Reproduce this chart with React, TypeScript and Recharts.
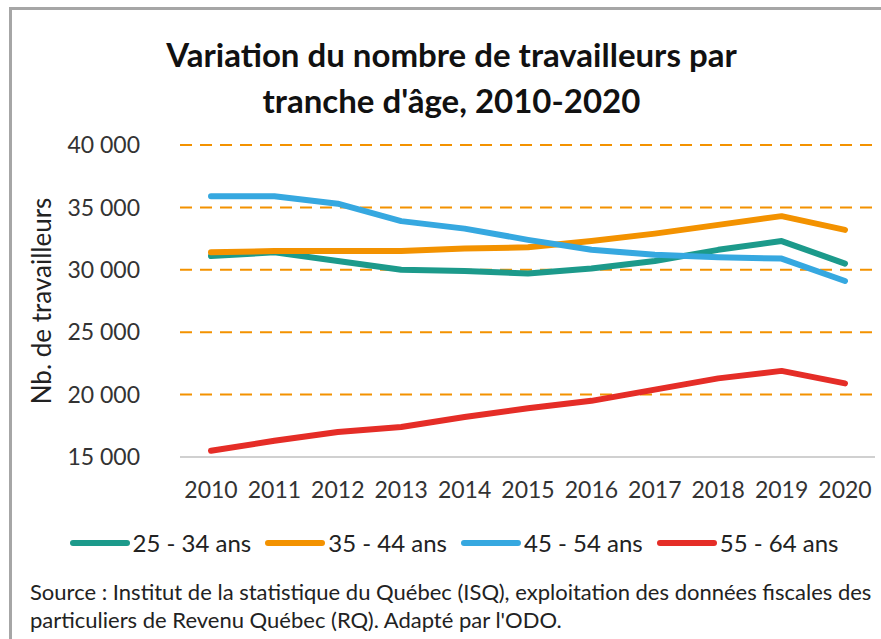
import { LineChart, Line, XAxis, YAxis, CartesianGrid, Label } from 'recharts'

const years = ['2010', '2011', '2012', '2013', '2014', '2015', '2016', '2017', '2018', '2019', '2020']
const age25to34 = [31100, 31400, 30700, 30000, 29900, 29700, 30100, 30700, 31600, 32300, 30500]
const age35to44 = [31400, 31500, 31500, 31500, 31700, 31800, 32300, 32900, 33600, 34300, 33200]
const age45to54 = [35900, 35900, 35300, 33900, 33300, 32400, 31600, 31200, 31000, 30900, 29100]
const age55to64 = [15500, 16300, 17000, 17400, 18200, 18900, 19500, 20400, 21300, 21900, 20900]
const yTicks = [15000, 20000, 25000, 30000, 35000, 40000]

const series = [
  { key: 'a', name: '25 - 34 ans', color: '#1c9a8b', values: age25to34 },
  { key: 'b', name: '35 - 44 ans', color: '#f39200', values: age35to44 },
  { key: 'c', name: '45 - 54 ans', color: '#36a8e0', values: age45to54 },
  { key: 'd', name: '55 - 64 ans', color: '#e52d27', values: age55to64 },
]

const data = years.map((y, i) => {
  const row: Record<string, string | number> = { year: y }
  series.forEach(s => { row[s.key] = s.values[i] })
  return row
})

const font = 'Lato, "Open Sans", sans-serif'
const fmt = (v: number) => `${Math.floor(v / 1000)} 000`

export default function App() {
  return (
    <div style={{ position: 'absolute', left: 0, top: 0, width: 881, height: 639, background: '#fff', fontFamily: font, overflow: 'hidden' }}>
      {/* frame */}
      <div style={{ position: 'absolute', left: 9, top: 7, right: -10, bottom: -10, borderLeft: '3px solid #a6a6a6', borderTop: '3px solid #a6a6a6' }} />

      {/* title */}
      <div style={{ position: 'absolute', left: 0, width: 903, top: 31, textAlign: 'center', fontSize: 33, fontWeight: 700, lineHeight: '46px', color: '#111' }}>
        Variation du nombre de travailleurs par<br />tranche d'âge, 2010-2020
      </div>

      <div style={{ position: 'absolute', left: 0, top: 0 }}>
        <LineChart width={881} height={639} data={data} margin={{ top: 145, right: 6, bottom: 152, left: 60 }}>
          <CartesianGrid horizontal vertical={false} stroke="#f39200" strokeWidth={2} strokeDasharray="12 8" />
          <XAxis dataKey="year" height={30} tickLine={false} stroke="#d0d0d0" strokeWidth={2}
            padding={{ left: 31, right: 30 }}
            tick={{ fontSize: 23, fill: '#333', fontFamily: font }} tickMargin={19} interval={0} />
          <YAxis width={120} domain={[15000, 40000]} ticks={yTicks} axisLine={false} tickLine={false}
            tickFormatter={fmt} tick={{ fontSize: 23, fill: '#333', fontFamily: font }} tickMargin={34}>
            <Label value="Nb. de travailleurs" angle={-90} position="insideLeft" offset={-18}
              style={{ fontSize: 26, fill: '#222', fontFamily: font, textAnchor: 'middle' }} />
          </YAxis>
          {series.map(s => (
            <Line key={s.key} dataKey={s.key} name={s.name} stroke={s.color} strokeWidth={6}
              strokeLinecap="round" strokeLinejoin="round" dot={false} type="linear" isAnimationActive={false} />
          ))}
        </LineChart>
      </div>

      {/* legend */}
      <div style={{ position: 'absolute', left: 0, width: 908, top: 527, display: 'flex', justifyContent: 'center', gap: 14, fontSize: 24, lineHeight: '32px', color: '#222' }}>
        {series.map(s => (
          <div key={s.key} style={{ display: 'flex', alignItems: 'center' }}>
            <span style={{ display: 'inline-block', width: 60, height: 6, borderRadius: 3, background: s.color, marginRight: 3 }} />
            {s.name}
          </div>
        ))}
      </div>

      {/* source */}
      <div style={{ position: 'absolute', left: 30, top: 578, fontSize: 22, lineHeight: '28px', color: '#222', whiteSpace: 'nowrap' }}>
        Source : Institut de la statistique du Québec (ISQ), exploitation des données fiscales des<br />
        particuliers de Revenu Québec (RQ). Adapté par l'ODO.
      </div>
    </div>
  )
}
